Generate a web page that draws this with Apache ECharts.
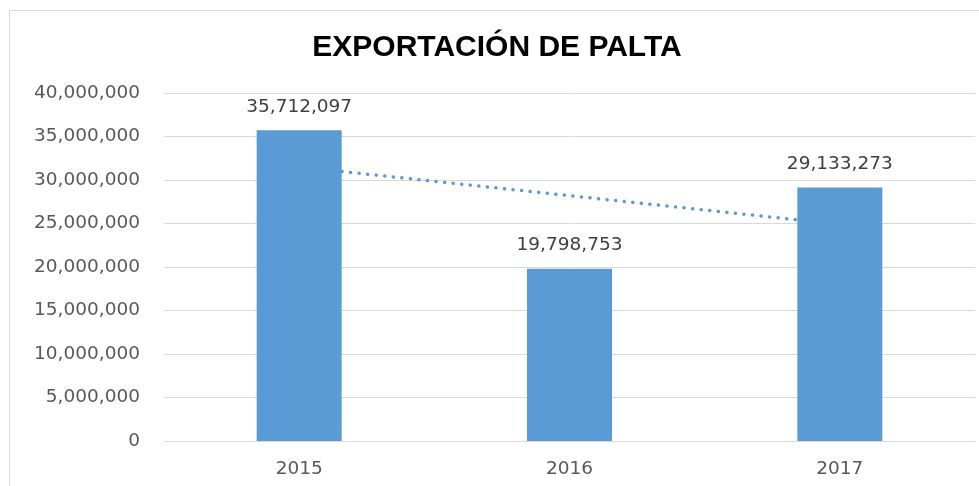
<!DOCTYPE html>
<html>
<head>
<meta charset="utf-8">
<script src="https://cdn.jsdelivr.net/npm/echarts@6/dist/echarts.min.js"></script>
<style>
  html, body { margin: 0; padding: 0; background: #fff; }
  #chart { width: 979px; height: 486px; }
</style>
</head>
<body>
<div id="chart"></div>
<script>
// datos del grafico
var years = ['2015', '2016', '2017'];
var exportValues = [35712097, 19798753, 29133273];
// linea de tendencia
var trendValues = [31500000, 28200000, 24900000];
var yTicks = [0, 5000000, 10000000, 15000000, 20000000, 25000000, 30000000, 35000000, 40000000];

var myChart = echarts.init(document.getElementById('chart'));

var fmt = function (v) {
  return Number(v).toLocaleString('en-US');
};

var option = {
  animation: false,
  title: {
    text: 'EXPORTACIÓN DE PALTA',
    left: 492,
    textAlign: 'center',
    top: 28,
    textStyle: {
      fontFamily: 'Liberation Sans',
      fontWeight: 'bold',
      fontSize: 30,
      color: '#000'
    }
  },
  graphic: [{
    type: 'rect',
    shape: { x: 9.5, y: 10.5, width: 1000, height: 500 },
    style: { fill: 'none', stroke: '#d9d9d9', lineWidth: 1 },
    silent: true
  }],
  grid: { left: 164, right: 4, top: 93, bottom: 45 },
  xAxis: {
    type: 'category',
    data: years,
    axisLine: { show: true, lineStyle: { color: '#d9d9d9', width: 1 } },
    axisTick: { show: false },
    axisLabel: {
      color: '#595959',
      fontFamily: 'DejaVu Sans',
      fontSize: 18.5,
      margin: 19
    }
  },
  yAxis: {
    type: 'value',
    min: yTicks[0],
    max: yTicks[yTicks.length - 1],
    interval: 5000000,
    axisLine: { show: false },
    axisTick: { show: false },
    splitLine: { lineStyle: { color: '#d9d9d9', width: 1 } },
    axisLabel: {
      color: '#595959',
      fontFamily: 'DejaVu Sans',
      fontSize: 18.5,
      margin: 24,
      formatter: fmt
    }
  },
  series: [
    {
      name: 'Tendencia',
      type: 'line',
      data: trendValues,
      z: 1,
      symbol: 'none',
      lineStyle: { color: '#5b9bd5', width: 3.5, type: [0.1, 8.5], cap: 'round' }
    },
    {
      name: 'Exportación',
      type: 'bar',
      data: exportValues,
      z: 5,
      barWidth: 85,
      itemStyle: { color: '#5b9bd5' },
      label: {
        show: true,
        position: 'top',
        distance: 14,
        color: '#404040',
        fontFamily: 'DejaVu Sans',
        fontSize: 18.5,
        formatter: function (p) { return fmt(p.value); }
      }
    }
  ]
};

myChart.setOption(option);
</script>
</body>
</html>
